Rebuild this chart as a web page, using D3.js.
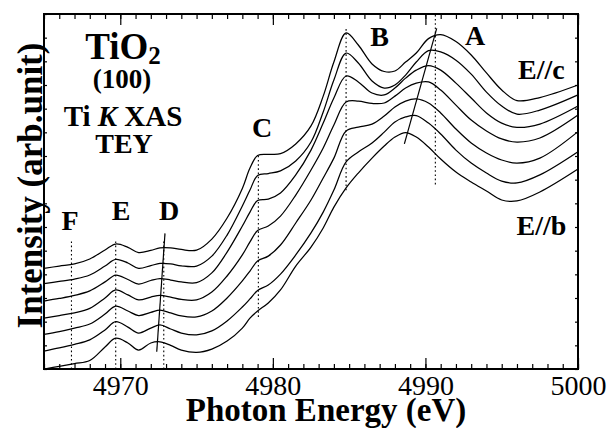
<!DOCTYPE html>
<html lang="en">
<head>
<meta charset="UTF-8" />
<title>TiO2 (100) Ti K XAS</title>
<script src="https://d3js.org/d3.v7.min.js"></script>
<style>
  body { margin: 0; background: #fff; }
  svg { display: block; font-family: "Liberation Serif", "Times New Roman", serif; }
  .curve { fill: none; stroke: #000; stroke-width: 1.25; }
  .guide { stroke: #000; stroke-width: 1.1; stroke-dasharray: 1.6 2.6; }
  .shift { stroke: #000; stroke-width: 1.2; }
  .lbl { font-weight: bold; text-anchor: middle; }
</style>
</head>
<body>
<div id="chart"></div>
<script>
// photon energy grid (eV), shared by all spectra
const energy = [4965, 4966, 4967, 4968, 4969, 4969.7, 4970.5, 4971.2, 4972, 4972.6,
  4973.3, 4974, 4975, 4976, 4977, 4978, 4978.5, 4979, 4979.7, 4980.5,
  4981.5, 4982.5, 4983.3, 4984, 4984.8, 4985.6, 4986.5, 4987.3, 4988, 4988.7,
  4989.4, 4990.2, 4991, 4992, 4993, 4994, 4995, 4996, 4997.5, 5000];

// spectra from E//c (top) to E//b (bottom), offset intensities (arb. unit)
const specC = [4.25, 4.35, 4.44, 4.65, 5.03, 5.28, 5.14, 4.92, 5.01, 5.12,
  5.12, 5.05, 5.02, 5.49, 6.38, 7.63, 8.49, 9.02, 9.07, 9.10,
  9.51, 10.27, 11.53, 12.97, 14.20, 13.69, 12.89, 12.57, 12.59, 12.97,
  13.35, 13.96, 14.13, 13.84, 13.27, 12.51, 11.79, 11.34, 11.47, 12.00];
const spec2 = [3.61, 3.70, 3.80, 3.97, 4.35, 4.63, 4.48, 4.25, 4.37, 4.46,
  4.44, 4.36, 4.35, 4.77, 5.66, 6.89, 7.56, 8.18, 8.26, 8.37,
  8.79, 9.59, 10.86, 12.21, 13.35, 12.93, 12.17, 11.87, 12.00, 12.42,
  12.97, 13.45, 13.40, 13.05, 12.46, 11.70, 11.11, 10.77, 10.94, 11.58];
const spec3 = [2.87, 2.98, 3.11, 3.30, 3.68, 3.97, 3.78, 3.59, 3.74, 3.82,
  3.76, 3.68, 3.65, 4.06, 4.94, 6.04, 6.63, 7.12, 7.18, 7.44,
  8.20, 9.25, 10.39, 11.45, 12.38, 12.13, 11.66, 11.58, 11.87, 12.29,
  12.63, 12.82, 12.63, 12.08, 11.45, 10.82, 10.39, 10.21, 10.35, 11.11];
const spec4 = [2.15, 2.26, 2.37, 2.56, 3.00, 3.34, 3.13, 2.92, 3.04, 3.11,
  3.04, 2.94, 2.92, 3.25, 3.93, 4.82, 5.37, 5.85, 6.04, 6.46,
  7.35, 8.41, 9.34, 10.31, 11.28, 11.32, 11.22, 11.24, 11.53, 11.87,
  12.08, 12.13, 11.79, 11.15, 10.52, 10.06, 9.72, 9.59, 9.76, 10.73];
const spec5 = [1.46, 1.58, 1.73, 1.90, 2.32, 2.66, 2.45, 2.26, 2.39, 2.49,
  2.37, 2.24, 2.20, 2.45, 3.00, 3.72, 4.14, 4.56, 4.77, 5.24,
  6.17, 7.14, 8.07, 8.91, 10.06, 10.22, 10.35, 10.69, 11.07, 11.32,
  11.41, 11.24, 10.82, 10.14, 9.55, 9.13, 8.83, 8.70, 8.91, 10.03];
const spec6 = [0.76, 0.89, 1.04, 1.23, 1.65, 2.00, 1.77, 1.52, 1.73, 1.86,
  1.69, 1.52, 1.44, 1.61, 2.03, 2.62, 2.96, 3.32, 3.55, 4.01,
  4.82, 5.75, 6.63, 7.56, 8.75, 9.17, 9.55, 10.01, 10.44, 10.65,
  10.71, 10.39, 9.93, 9.25, 8.70, 8.28, 7.94, 7.86, 8.20, 9.18];
const specB = [0.00, 0.11, 0.23, 0.36, 0.93, 1.30, 1.10, 0.80, 1.10, 1.15,
  1.00, 0.80, 0.70, 0.84, 1.18, 1.73, 2.15, 2.45, 2.79, 3.34,
  4.35, 5.15, 5.96, 6.84, 7.65, 8.28, 8.91, 9.42, 9.80, 9.99,
  9.80, 9.38, 8.87, 8.32, 7.90, 7.52, 7.14, 7.10, 7.48, 8.45];

const spectra = [specC, spec2, spec3, spec4, spec5, spec6, specB];

// dotted guide lines at the features
const guideNames = ["F", "E", "D", "C", "B", "A"];
const guideEnergy = [4966.8, 4969.7, 4972.85, 4979.05, 4984.8, 4990.65];
const guideLow = [0, 0, 0, 2.2, 7.55, 7.8];
const guideHigh = [5.45, 5.5, 5.45, 9.1, 14.45, 15];

// solid lines following the shift of peaks D and A
const shiftD = [[4972.93, 5.73], [4972.39, 0.73]];
const shiftA = [[4990.74, 14.39], [4988.62, 9.51]];

const xTicks = [4970, 4980, 4990, 5000];

const width = 607, height = 428;
const margin = { top: 14, right: 29, bottom: 59, left: 44 };

const svg = d3.select("#chart").append("svg")
  .attr("width", width)
  .attr("height", height);

const x = d3.scaleLinear().domain([4965, 5000]).range([margin.left, width - margin.right]);
const y = d3.scaleLinear().domain([0, 15]).range([height - margin.bottom, margin.top]);

// ticks (all pointing inward)
const minor = d3.range(4965, 5001);
svg.append("g")
  .attr("transform", `translate(0,${y(0)})`)
  .call(d3.axisBottom(x).tickValues(minor).tickSize(-5).tickFormat(""))
  .call(g => g.select(".domain").remove());
svg.append("g")
  .attr("transform", `translate(0,${y(0)})`)
  .attr("font-size", 28)
  .attr("font-family", "Liberation Serif")
  .call(d3.axisBottom(x).tickValues(xTicks).tickSize(-11).tickPadding(6).tickFormat(d3.format("d")))
  .attr("font-size", 28)
  .attr("font-family", "Liberation Serif")
  .call(g => g.select(".domain").remove());
svg.append("g")
  .attr("transform", `translate(0,${y(15)})`)
  .call(d3.axisTop(x).tickValues(minor).tickSize(-5).tickFormat(""))
  .call(g => g.select(".domain").remove());
svg.append("g")
  .attr("transform", `translate(0,${y(15)})`)
  .call(d3.axisTop(x).tickValues(xTicks).tickSize(-11).tickFormat(""))
  .call(g => g.select(".domain").remove());
svg.append("g")
  .attr("transform", `translate(${x(4965)},0)`)
  .call(d3.axisLeft(y).tickValues(d3.range(0, 16)).tickSize(-3).tickFormat(""))
  .call(g => g.select(".domain").remove());
svg.append("g")
  .attr("transform", `translate(${x(5000)},0)`)
  .call(d3.axisRight(y).tickValues(d3.range(0, 16)).tickSize(-3).tickFormat(""))
  .call(g => g.select(".domain").remove());
svg.selectAll(".tick line").attr("stroke", "#000").attr("stroke-width", 1.2);

// frame
svg.append("rect")
  .attr("x", x(4965)).attr("y", y(15))
  .attr("width", x(5000) - x(4965)).attr("height", y(0) - y(15))
  .attr("fill", "none").attr("stroke", "#000").attr("stroke-width", 2);

// guides
svg.append("g").selectAll("line")
  .data(guideNames)
  .join("line")
  .attr("class", "guide")
  .attr("x1", (d, i) => x(guideEnergy[i])).attr("x2", (d, i) => x(guideEnergy[i]))
  .attr("y1", (d, i) => y(guideLow[i])).attr("y2", (d, i) => y(guideHigh[i]));

// spectra
const line = d3.line()
  .x((d, i) => x(energy[i]))
  .y(d => y(d))
  .curve(d3.curveCatmullRom.alpha(0.5));

svg.append("g").selectAll("path")
  .data(spectra)
  .join("path")
  .attr("class", "curve")
  .attr("d", line);

// peak-shift lines
svg.append("g").selectAll("line")
  .data([shiftD, shiftA])
  .join("line")
  .attr("class", "shift")
  .attr("x1", d => x(d[0][0])).attr("y1", d => y(d[0][1]))
  .attr("x2", d => x(d[1][0])).attr("y2", d => y(d[1][1]));

// feature letters
const letterPos = {
  F: [4966.7, 5.87], E: [4970.05, 6.29], D: [4973.2, 6.29],
  C: [4979.3, 9.8], B: [4987.0, 13.65], A: [4993.25, 13.69]
};
svg.append("g").selectAll("text")
  .data(guideNames)
  .join("text")
  .attr("class", "lbl")
  .attr("font-size", 28)
  .attr("x", d => x(letterPos[d][0]))
  .attr("y", d => y(letterPos[d][1]))
  .text(d => d);

svg.append("text").attr("class", "lbl").attr("font-size", 28)
  .attr("x", x(4997.6)).attr("y", y(12.25)).text("E//c");
svg.append("text").attr("class", "lbl").attr("font-size", 28)
  .attr("x", x(4997.6)).attr("y", y(5.66)).text("E//b");

// sample info block
const info = svg.append("g").attr("font-weight", "bold").attr("text-anchor", "middle");
const tio = info.append("text").attr("x", 123).attr("y", 59).attr("font-size", 37);
tio.append("tspan").text("TiO");
tio.append("tspan").attr("font-size", 25).attr("dy", 5).text("2");
info.append("text").attr("x", 122).attr("y", 88).attr("font-size", 27).text("(100)");
const xas = info.append("text").attr("x", 123).attr("y", 126).attr("font-size", 29);
xas.append("tspan").text("Ti ");
xas.append("tspan").attr("font-style", "italic").text("K");
xas.append("tspan").text(" XAS");
info.append("text").attr("x", 124).attr("y", 153).attr("font-size", 28).text("TEY");

// axis titles
svg.append("text")
  .attr("class", "lbl")
  .attr("font-size", 33)
  .attr("x", (x(4965) + x(5000)) / 2 + 15)
  .attr("y", 421)
  .text("Photon Energy (eV)");
svg.append("text")
  .attr("class", "lbl")
  .attr("font-size", 35)
  .attr("transform", `translate(42,${(y(0) + y(15)) / 2 - 6}) rotate(-90)`)
  .text("Intensity (arb.unit)");
</script>
</body>
</html>
